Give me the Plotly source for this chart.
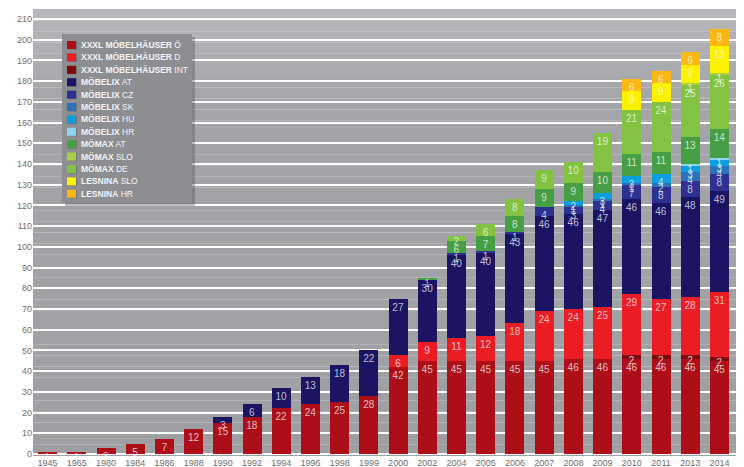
import plotly.graph_objects as go

years = ["1945", "1965", "1980", "1984", "1986", "1988", "1990", "1992", "1994", "1996",
         "1998", "1999", "2000", "2002", "2004", "2005", "2006", "2007", "2008", "2009",
         "2010", "2011", "2013", "2014"]

N = None
xxxl_oe = [1, 1, 3, 5, 7, 12, 15, 18, 22, 24, 25, 28, 42, 45, 45, 45, 45, 45, 46, 46, 46, 46, 46, 45]
xxxl_int = [N] * 20 + [2, 2, 2, 2]
xxxl_d = [N] * 12 + [6, 9, 11, 12, 18, 24, 24, 25, 29, 27, 28, 31]
moebelix_at = [N] * 6 + [3, 6, 10, 13, 18, 22, 27, 30, 40, 40, 43, 46, 46, 47, 46, 46, 48, 49]
moebelix_cz = [N] * 14 + [1, 1, 1, 4, 3, 4, 7, 8, 8, 8]
moebelix_sk = [N] * 18 + [1, 1, 1, 2, 4, 4]
moebelix_hu = [N] * 18 + [2, 3, 3, 4, 3, 3]
moebelix_hr = [N] * 22 + [1, 1]
moemax_at = [N] * 13 + [1, 6, 7, 8, 9, 9, 10, 11, 11, 13, 14]
moemax_de = [N] * 14 + [2, 6, 8, 9, 10, 19, 21, 24, 25, 26]
moemax_slo = [N] * 22 + [1, 1]
lesnina_slo = [N] * 20 + [9, 9, 9, 13]
lesnina_hr = [N] * 20 + [6, 6, 6, 8]

# (brand, country, values, colour, legend position) in stacking order
series = [
    ("XXXL MÖBELHÄUSER", "Ö", xxxl_oe, "#ad0e17", 0),
    ("XXXL MÖBELHÄUSER", "INT", xxxl_int, "#7d0a0c", 2),
    ("XXXL MÖBELHÄUSER", "D", xxxl_d, "#ec1c24", 1),
    ("MÖBELIX", "AT", moebelix_at, "#1a1463", 3),
    ("MÖBELIX", "CZ", moebelix_cz, "#2e3192", 4),
    ("MÖBELIX", "SK", moebelix_sk, "#2c72b8", 5),
    ("MÖBELIX", "HU", moebelix_hu, "#0b9fe0", 6),
    ("MÖBELIX", "HR", moebelix_hr, "#8fd4ee", 7),
    ("MÖMAX", "AT", moemax_at, "#469f45", 8),
    ("MÖMAX", "DE", moemax_de, "#83c341", 10),
    ("MÖMAX", "SLO", moemax_slo, "#a9cf47", 9),
    ("LESNINA", "SLO", lesnina_slo, "#fff200", 11),
    ("LESNINA", "HR", lesnina_hr, "#fdb913", 12),
]

# the page body adds an 8px offset; the figure is sized so the window shows the same frame
OFF = 8
W, H = 744 - OFF, 467 - OFF
ML, MR, MT, MB = 33 - OFF, 0, 9 - OFF, 11
PW, PH = W - ML - MR, H - MT - MB


def px(x):
    return (x - OFF - ML) / PW


def py(y):
    return (H - MB - (y - OFF)) / PH


fig = go.Figure()
for brand, country, vals, col, rank in series:
    fig.add_trace(go.Bar(
        x=years, y=vals, name=f"{brand} {country}",
        marker=dict(color=col, line=dict(width=0)),
        text=[("" if v is None else str(v)) for v in vals],
        textposition="inside", insidetextanchor="end", textangle=0,
        textfont=dict(size=10, color="rgba(255,255,255,0.72)", family="Liberation Sans, Arial"),
        showlegend=False, cliponaxis=False,
    ))

shapes = []
# soft gradient background of the plot area
nb = 40
for i in range(nb):
    t = i / (nb - 1)
    if t < 0.2:
        f = t / 0.2
        c0, c1 = (181, 182, 186), (164, 165, 169)
    else:
        f = (t - 0.2) / 0.8
        c0, c1 = (164, 165, 169), (158, 159, 163)
    c = tuple(int(round(a + (b - a) * f)) for a, b in zip(c0, c1))
    shapes.append(dict(type="rect", xref="paper", yref="paper", x0=0, x1=1,
                       y0=1 - (i + 1) / nb, y1=1 - i / nb, layer="below",
                       line=dict(width=0), fillcolor=f"rgb{c}"))

# custom legend box
bx0, bx1, by0, by1 = 62, 192, 34, 203
shapes.append(dict(type="rect", xref="paper", yref="paper",
                   x0=px(bx0 + 3), x1=px(bx1 + 3), y0=py(by1 + 3), y1=py(by0 + 3),
                   line=dict(width=0), fillcolor="rgba(70,70,75,0.35)"))
shapes.append(dict(type="rect", xref="paper", yref="paper",
                   x0=px(bx0), x1=px(bx1), y0=py(by1), y1=py(by0),
                   line=dict(width=0), fillcolor="#8d8e92"))

annotations = []
for brand, country, vals, col, rank in series:
    cy = 45 + rank * 12.4
    shapes.append(dict(type="rect", xref="paper", yref="paper",
                       x0=px(68), x1=px(77), y0=py(cy + 4.5), y1=py(cy - 3.5),
                       line=dict(width=0), fillcolor="rgba(60,60,60,0.35)"))
    shapes.append(dict(type="rect", xref="paper", yref="paper",
                       x0=px(67), x1=px(76), y0=py(cy + 4), y1=py(cy - 4),
                       line=dict(width=0), fillcolor=col))
    annotations.append(dict(xref="paper", yref="paper", x=px(79), y=py(cy),
                            xanchor="left", yanchor="middle", showarrow=False,
                            text=f"<b>{brand}</b> {country}",
                            font=dict(size=8.5, color="#f4f4f6", family="Liberation Sans, Arial")))

fig.update_layout(
    width=W, height=H,
    margin=dict(l=ML, r=MR, t=MT, b=MB, pad=0),
    paper_bgcolor="white", plot_bgcolor="rgba(0,0,0,0)",
    barmode="stack", bargap=0.35,
    uniformtext=dict(minsize=10, mode="show"),
    font=dict(family="Liberation Sans, Arial", size=9, color="#6d6d6d"),
    xaxis=dict(type="category", range=[-0.5, 23.84], showgrid=False, zeroline=False,
               tickfont=dict(size=9, color="#6d6d6d"), ticks="", showline=False),
    yaxis=dict(range=[-1, 214.8], tick0=0, dtick=10, showgrid=True, gridcolor="white",
               gridwidth=1.5, zeroline=True, zerolinecolor="white", zerolinewidth=1.5,
               tickfont=dict(size=9, color="#6d6d6d"), ticks="", showline=False),
    shapes=shapes, annotations=annotations,
    showlegend=False,
)

fig.write_html("out.html")
